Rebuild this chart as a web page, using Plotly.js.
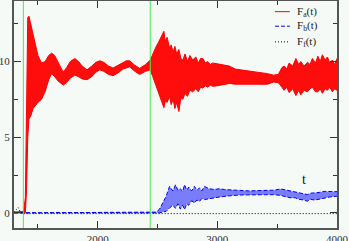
<!DOCTYPE html>
<html>
<head>
<meta charset="utf-8">
<script src="https://cdn.plot.ly/plotly-3.0.1.min.js"></script>
<style>html,body{margin:0;padding:0;background:#f5faf7;}#chart{width:349px;height:241px;}</style>
</head>
<body>
<div id="chart"></div>
<script>
// ---- data (upper / lower envelopes of the fast oscillations) ----
const tA = [1300,1380,1395,1405,1415,1425,1440,1460,1480,1500,1530,1560,1590,1614,1640,1670,1711,1740,1770,1808,1840,1870,1911,1950,1985,2017,2050,2090,2128,2170,2210,2239,2267,2310,2350,2400,2439,2460,2489,2510,2531,2553,2565,2580,2600,2614,2630,2645,2660,2678,2695,2711,2730,2750,2770,2794,2820,2840,2860,2878,2900,2920,2940,2961,3000,3044,3100,3150,3200,3300,3419,3470,3510,3540,3558,3580,3600,3630,3656,3680,3697,3725,3753,3775,3794,3820,3840,3860,3878,3900,3920,3940,3961,3980,4000];
const aHi = [0.05,0.1,1.0,9.0,12.9,13.0,12.5,11.8,11.0,10.4,9.9,10.0,10.4,10.55,10.4,9.9,9.3,9.6,10.0,10.2,10.0,9.7,9.45,9.7,9.95,10.05,9.95,9.7,9.57,9.75,9.95,10.05,10.05,9.75,9.55,9.8,10.1,10.5,11.0,11.3,11.6,12.0,11.3,11.6,10.9,11.1,10.6,11.0,10.5,10.8,10.2,10.1,10.5,10.0,10.4,10.1,10.3,9.9,10.2,10.2,9.9,10.0,9.8,9.9,9.85,9.8,9.7,9.5,9.45,9.35,9.2,9.1,9.15,9.6,9.7,9.5,9.9,9.7,10.2,9.8,10.0,9.7,9.95,9.8,10.2,9.9,10.35,10.0,10.45,10.1,10.3,9.9,10.1,9.8,10.2];
const aLo = [0,0,0,1.5,5.0,6.2,6.4,6.9,7.1,7.3,7.5,8.0,8.8,9.2,9.0,8.7,8.45,8.6,8.9,9.1,9.0,8.85,8.8,9.0,9.3,9.45,9.35,9.15,9.06,9.25,9.5,9.57,9.65,9.35,9.15,9.35,9.45,9.0,8.36,7.9,7.5,6.95,7.4,7.3,7.7,7.15,7.5,6.9,7.3,6.7,7.6,7.5,7.9,7.7,8.1,8.0,8.2,8.0,8.3,8.25,8.4,8.3,8.45,8.36,8.4,8.47,8.55,8.5,8.5,8.5,8.5,8.65,8.6,8.3,8.1,8.3,7.95,8.2,7.75,8.1,7.8,8.1,8.0,8.2,8.3,8.0,8.0,8.2,7.9,8.2,8.1,8.3,8.0,8.2,8.1];

const tB = [1300,2489,2517,2544,2572,2600,2628,2650,2670,2690,2710,2725,2745,2760,2785,2808,2830,2850,2870,2892,2930,2975,3020,3058,3130,3197,3270,3336,3400,3475,3531,3580,3614,3650,3680,3720,3753,3780,3808,3850,3892,3940,4000];
const bHi = [0,0.05,0.25,0.7,1.1,1.75,1.45,1.85,1.5,1.6,1.4,1.86,1.5,1.7,1.45,1.75,1.5,1.65,1.45,1.75,1.6,1.54,1.6,1.54,1.5,1.48,1.45,1.47,1.5,1.5,1.58,1.5,1.45,1.4,1.35,1.3,1.21,1.3,1.3,1.35,1.42,1.4,1.4];
const bLo = [0,0,0,0.05,0.1,0.33,0.5,0.3,0.6,0.25,0.5,0.22,0.6,0.5,0.8,0.66,0.85,0.75,0.95,0.88,0.95,0.99,1.05,1.1,1.15,1.18,1.2,1.2,1.2,1.2,1.15,1.05,0.99,1.0,0.9,0.85,0.77,0.9,0.85,0.9,0.99,1.05,1.1];

const tF = [1300,1320,1335,1350,1370,4000];
const fVal = [0.05,0.25,0.35,0.1,-0.05,-0.05];

const eventTimes = [1378, 2439];

const xTickVals = [2000, 3000, 4000];
const yTickVals = [0, 5, 10];

const seriesNames = ['F<sub>a</sub>(t)', 'F<sub>b</sub>(t)', 'F<sub>f</sub>(t)'];
const seriesColors = ['#ff0000', '#0000ff', '#000000'];
const seriesDash = ['solid', '4px,2px', '1px,2px'];

// ---- traces ----
const traces = [
  {x: tA, y: aHi, type: 'scatter', mode: 'lines', name: seriesNames[0],
   line: {color: seriesColors[0], width: 1}, showlegend: false, hoverinfo: 'skip'},
  {x: tA, y: aLo, type: 'scatter', mode: 'lines', name: seriesNames[0],
   line: {color: seriesColors[0], width: 1}, fill: 'tonexty', fillcolor: 'rgba(255,0,0,0.95)',
   showlegend: false, hoverinfo: 'skip'},
  {x: tB, y: bHi, type: 'scatter', mode: 'lines', name: seriesNames[1],
   line: {color: seriesColors[1], width: 1, dash: seriesDash[1]}, showlegend: false, hoverinfo: 'skip'},
  {x: tB, y: bLo, type: 'scatter', mode: 'lines', name: seriesNames[1],
   line: {color: seriesColors[1], width: 1, dash: seriesDash[1]}, fill: 'tonexty', fillcolor: 'rgba(0,0,255,0.5)',
   showlegend: false, hoverinfo: 'skip'},
  {x: tF, y: fVal, type: 'scatter', mode: 'lines', name: seriesNames[2],
   line: {color: seriesColors[2], width: 1, dash: seriesDash[2]}, showlegend: false, hoverinfo: 'skip'}
];

const serif = 'Liberation Serif, Times New Roman, serif';
const axisCommon = {
  showgrid: false, zeroline: false,
  showline: true, linecolor: '#555555', linewidth: 2, mirror: 'ticks',
  ticks: 'inside', ticklen: 7, tickwidth: 1, tickcolor: '#333333',
  tickfont: {family: serif, size: 11, color: '#333333'}
};

// compact legend drawn with shapes + annotations (paper coordinates)
const legX0 = 0.808, legX1 = 0.854, legTextX = 0.870;
const legRowY = [0.953, 0.889, 0.820];
const legendShapes = seriesNames.map((n, i) => ({
  type: 'line', xref: 'paper', yref: 'paper', x0: legX0, x1: legX1, y0: legRowY[i], y1: legRowY[i],
  line: {color: seriesColors[i], width: 1, dash: seriesDash[i]}
}));
const legendTexts = seriesNames.map((n, i) => ({
  xref: 'paper', yref: 'paper', x: legTextX, y: legRowY[i], xanchor: 'left', yanchor: 'middle',
  text: n, showarrow: false, font: {family: serif, size: 11, color: '#222222'}
}));

const layout = {
  width: 349, height: 241,
  margin: {l: 14, r: 12, t: 1, b: 13, pad: 0},
  paper_bgcolor: '#f5faf7', plot_bgcolor: '#f5faf7',
  showlegend: false,
  xaxis: Object.assign({}, axisCommon, {
    range: [1300, 4000], tickmode: 'array', tickvals: xTickVals,
    minor: {dtick: 500, tick0: 1500, ticks: 'inside', ticklen: 4, tickcolor: '#333333'}
  }),
  yaxis: Object.assign({}, axisCommon, {
    range: [-1, 14], tickmode: 'array', tickvals: yTickVals,
    minor: {dtick: 2.5, tick0: 0, ticks: 'inside', ticklen: 4, tickcolor: '#333333'}
  }),
  shapes: eventTimes.map(t => ({type: 'line', xref: 'x', yref: 'paper', x0: t, x1: t, y0: 0, y1: 1,
                                line: {color: '#44ee44', width: 1}, layer: 'above'})).concat(legendShapes),
  annotations: [{x: 3725, y: 2.2, xref: 'x', yref: 'y', text: 't', showarrow: false,
                 font: {family: serif, size: 14, color: '#111111'}}].concat(legendTexts)
};

Plotly.newPlot('chart', traces, layout, {staticPlot: true, displayModeBar: false});
</script>
</body>
</html>
